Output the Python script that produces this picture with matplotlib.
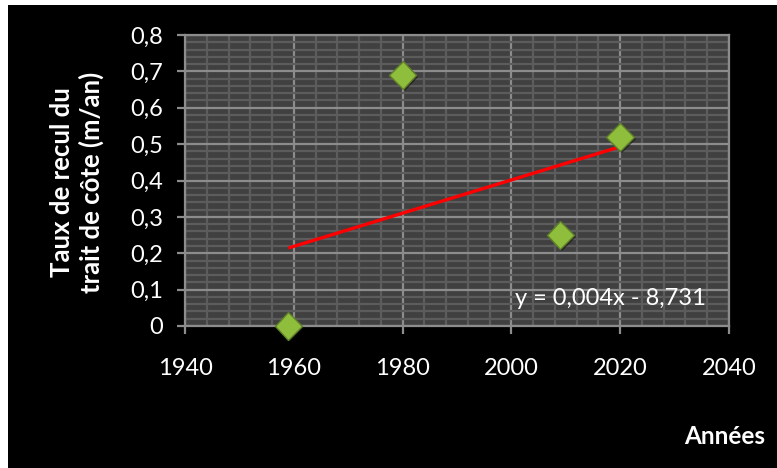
import numpy as np
import matplotlib
matplotlib.use("Agg")
import matplotlib.pyplot as plt
from matplotlib.patches import Rectangle
from matplotlib.ticker import MultipleLocator, FuncFormatter
import matplotlib.patheffects as pe

# Shoreline retreat rate by year
years = [1959, 1980, 2009, 2020]
rates = [0.0, 0.69, 0.25, 0.52]

x_ticks = [1940, 1960, 1980, 2000, 2020, 2040]
y_ticks = [0, 0.1, 0.2, 0.3, 0.4, 0.5, 0.6, 0.7, 0.8]

# Trend equation as displayed (coefficients rounded for display)
trend_label = 'y = 0,004x - 8,731'

plt.rcParams['font.family'] = ['Lato', 'DejaVu Sans']

W, H = 777, 468
fig = plt.figure(figsize=(W / 100, H / 100), dpi=100)
fig.patch.set_facecolor('white')
fig.patches.append(Rectangle((8 / W, 0), 1 - 8 / W, 1 - 5 / H,
                             transform=fig.transFigure, facecolor='black',
                             edgecolor='none', zorder=-10))

ax = fig.add_axes([185 / W, 1 - 326 / H, (729 - 185) / W, (326 - 35) / H])
ax.set_facecolor('#404040')

ax.set_xlim(1940, 2040)
ax.set_ylim(0, 0.8)
ax.xaxis.set_major_locator(MultipleLocator(20))
ax.xaxis.set_minor_locator(MultipleLocator(4))
ax.yaxis.set_major_locator(MultipleLocator(0.1))
ax.yaxis.set_minor_locator(MultipleLocator(0.02))

ax.grid(which='minor', color='#5c5c5c', linewidth=1.6, zorder=1)
ax.grid(which='major', color='#8c8c8c', linewidth=1.6, zorder=1)
ax.set_axisbelow(True)

for s in ax.spines.values():
    s.set_color('#8c8c8c')
    s.set_linewidth(1.6)

ax.tick_params(which='major', direction='out', length=6, width=1.6,
               color='#8c8c8c', labelcolor='white', labelsize=17)
ax.tick_params(which='minor', length=0)
ax.tick_params(axis='y', pad=10)
ax.tick_params(axis='x', pad=17)

ax.set_xticks(x_ticks)
ax.set_yticks(y_ticks)
ax.yaxis.set_major_formatter(FuncFormatter(
    lambda v, _: '0' if abs(v) < 1e-9 else f'{v:.1f}'.replace('.', ',')))

# Linear trend fitted on the data
slope, intercept = np.polyfit(years, rates, 1)
xs = np.array([min(years), max(years)])
ax.plot(xs, slope * xs + intercept, color='#ff0000', linewidth=2.4,
        zorder=3, solid_capstyle='butt')

ax.plot(years, rates, linestyle='none', marker='D', markersize=14,
        markerfacecolor='#8fbd3c', markeredgecolor='#5f7f28',
        markeredgewidth=1.0, zorder=4, clip_on=False,
        path_effects=[pe.SimplePatchShadow(offset=(1.5, -1.5),
                                           shadow_rgbFace='#101010', alpha=0.6),
                      pe.Normal()])

ax.text(2000.6, 0.075, trend_label,
        color='white', fontsize=17, ha='left', va='center', zorder=5)

fig.text(77 / W, 1 - 182 / H, 'Taux de recul du\ntrait de côte (m/an)',
         rotation=90, ha='center', va='center', color='white',
         fontsize=18.5, fontweight='bold', linespacing=1.25)
fig.text(765 / W, 1 - 436 / H, 'Années', ha='right', va='center',
         color='white', fontsize=17.5, fontweight='bold')

fig.savefig('out.png', dpi=100, facecolor=fig.get_facecolor())
